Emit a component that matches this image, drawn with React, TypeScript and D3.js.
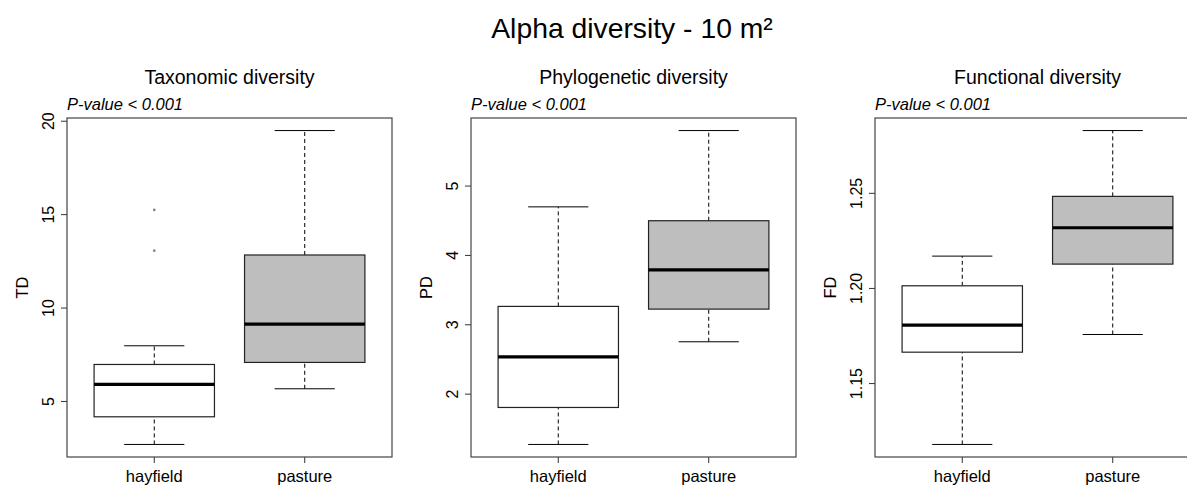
import React from "react";
import * as d3 from "d3";

const groups = ["hayfield", "pasture"];
const panelTitles = ["Taxonomic diversity", "Phylogenetic diversity", "Functional diversity"];
const yLabels = ["TD", "PD", "FD"];
const pLabels = ["P-value < 0.001", "P-value < 0.001", "P-value < 0.001"];

// [lowerWhisker, Q1, median, Q3, upperWhisker] per group
const tdStats = [
  [2.7, 4.18, 5.91, 6.98, 7.98],
  [5.68, 7.09, 9.14, 12.84, 19.5],
];
const pdStats = [
  [1.275, 1.808, 2.538, 3.265, 4.7],
  [2.755, 3.226, 3.793, 4.5, 5.8],
];
const fdStats = [
  [1.118, 1.1665, 1.1807, 1.2014, 1.217],
  [1.1758, 1.2128, 1.2319, 1.2484, 1.283],
];
const tdOutliers = [[13.07, 15.25], []];
const pdOutliers = [[], []];
const fdOutliers = [[], []];

const tdTicks = [5, 10, 15, 20];
const pdTicks = [2, 3, 4, 5];
const fdTicks = [1.15, 1.2, 1.25];
const tdTickLabels = ["5", "10", "15", "20"];
const pdTickLabels = ["2", "3", "4", "5"];
const fdTickLabels = ["1.15", "1.20", "1.25"];

const boxFills = ["#ffffff", "#bebebe"];

const panels = [
  { stats: tdStats, out: tdOutliers, ticks: tdTicks, tl: tdTickLabels },
  { stats: pdStats, out: pdOutliers, ticks: pdTicks, tl: pdTickLabels },
  { stats: fdStats, out: fdOutliers, ticks: fdTicks, tl: fdTickLabels },
];

const W = 1187;
const H = 486;
const FONT = "Liberation Sans, Arial, sans-serif";
const panelLefts = [67, 471, 875];
const plotW = 325;
const plotTop = 118;
const plotBottom = 457;

function Panel({ idx }: { idx: number }) {
  const p = panels[idx];
  const left = panelLefts[idx];
  const right = left + plotW;
  const allVals = [...p.stats.flat(), ...p.out.flat()];
  const lo = d3.min(allVals) as number;
  const hi = d3.max(allVals) as number;
  const pad = (hi - lo) * 0.04;
  const y = d3.scaleLinear().domain([lo - pad, hi + pad]).range([plotBottom, plotTop]);
  const x = d3.scaleLinear().domain([0.42, 2.58]).range([left, right]);
  const unit = x(2) - x(1);
  const halfBox = unit * 0.4;
  const halfCap = halfBox / 2;
  const cx = (left + right) / 2;

  return (
    <g>
      <text x={cx} y={83.5} textAnchor="middle" fontSize={19.5} fontFamily={FONT} fill="#000">
        {panelTitles[idx]}
      </text>
      <text x={left} y={109.5} fontSize={16.5} fontStyle="italic" fontFamily={FONT} fill="#000">
        {pLabels[idx]}
      </text>
      <text
        transform={`translate(${left - 39},${(plotTop + plotBottom) / 2}) rotate(-90)`}
        textAnchor="middle"
        fontSize={16.5}
        fontFamily={FONT}
        fill="#000"
      >
        {yLabels[idx]}
      </text>
      {p.ticks.map((t, i) => (
        <g key={i}>
          <line x1={left - 6} x2={left} y1={y(t)} y2={y(t)} stroke="#333" strokeWidth={1} />
          <text
            transform={`translate(${left - 13},${y(t)}) rotate(-90)`}
            textAnchor="middle"
            fontSize={16}
            fontFamily={FONT}
            fill="#000"
          >
            {p.tl[i]}
          </text>
        </g>
      ))}
      {groups.map((g, gi) => {
        const s = p.stats[gi];
        const gx = x(gi + 1);
        return (
          <g key={g}>
            <line x1={gx} x2={gx} y1={y(s[0])} y2={y(s[1])} stroke="#000" strokeDasharray="4,3" strokeWidth={1} />
            <line x1={gx} x2={gx} y1={y(s[3])} y2={y(s[4])} stroke="#000" strokeDasharray="4,3" strokeWidth={1} />
            <line x1={gx - halfCap} x2={gx + halfCap} y1={y(s[0])} y2={y(s[0])} stroke="#000" strokeWidth={1} />
            <line x1={gx - halfCap} x2={gx + halfCap} y1={y(s[4])} y2={y(s[4])} stroke="#000" strokeWidth={1} />
            <rect
              x={gx - halfBox}
              y={y(s[3])}
              width={halfBox * 2}
              height={y(s[1]) - y(s[3])}
              fill={boxFills[gi]}
              stroke="#222"
              strokeWidth={1.2}
            />
            <line x1={gx - halfBox} x2={gx + halfBox} y1={y(s[2])} y2={y(s[2])} stroke="#000" strokeWidth={3.2} />
            {p.out[gi].map((o, oi) => (
              <circle key={oi} cx={gx} cy={y(o)} r={1.4} fill="#888" />
            ))}
            <line x1={gx} x2={gx} y1={plotBottom} y2={plotBottom + 6} stroke="#333" strokeWidth={1} />
            <text x={gx} y={482} textAnchor="middle" fontSize={16.5} fontFamily={FONT} fill="#000">
              {g}
            </text>
          </g>
        );
      })}
      <rect x={left} y={plotTop} width={plotW} height={plotBottom - plotTop} fill="none" stroke="#444" strokeWidth={1.2} />
    </g>
  );
}

export default function App() {
  return (
    <svg width={W} height={H} style={{ position: "absolute", left: 0, top: 0, background: "#fff" }}>
      <rect x={0} y={0} width={W} height={H} fill="#fff" />
      <text x={632} y={37.5} textAnchor="middle" fontSize={28.3} fontFamily={FONT} fill="#000">
        Alpha diversity - 10 m²
      </text>
      {[0, 1, 2].map((i) => (
        <Panel key={i} idx={i} />
      ))}
    </svg>
  );
}
